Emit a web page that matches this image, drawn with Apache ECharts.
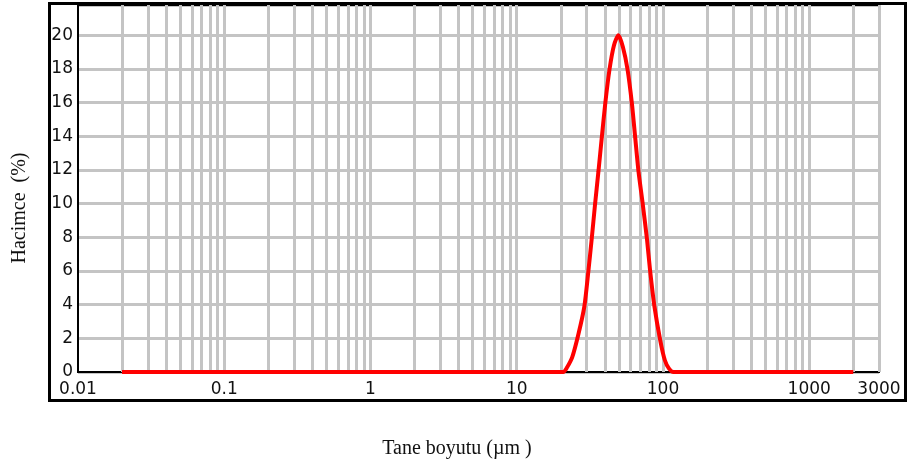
<!DOCTYPE html>
<html>
<head>
<meta charset="utf-8">
<script src="https://cdn.jsdelivr.net/npm/echarts@6/dist/echarts.min.js"></script>
<style>
html, body { margin: 0; padding: 0; background: #fff; }
#chart { width: 908px; height: 468px; }
</style>
</head>
<body>
<div id="chart"></div>
<script>
// tane boyutu (um) ve hacimce (%)
var sizes = [0.02, 18, 20.8, 22, 24, 26.5, 29.0, 30.9, 32.6, 34.3, 36.2, 38.2, 40.3, 43.1, 46.2, 49.6,
    53.2, 57.2, 61.3, 64.5, 68.0, 72.8, 77.6, 81.7, 87.4, 95.7, 103, 110, 118, 2000];
var volume = [0, 0, 0, 0.25, 0.9, 2.3, 3.9, 6.0, 7.95, 9.94, 11.92, 13.97, 15.95, 17.98, 19.4, 20.0,
    19.3, 17.98, 15.95, 13.97, 11.92, 9.94, 7.95, 6.0, 3.9, 1.9, 0.7, 0.2, 0, 0];

var xTickLabels = ['0.01', '0.1', '1', '10', '100', '1000', '3000'];
var yTickLabels = ['0', '2', '4', '6', '8', '10', '12', '14', '16', '18', '20'];
var gridDecades = [0.01, 0.1, 1, 10, 100, 1000];
var gridSteps = [1, 2, 3, 4, 5, 6, 7, 8, 9];

var xMin = 0.01, xMax = 3000;
var yMax = 21.8;

(function () {
    var mychart = echarts.init(document.getElementById('chart'));

    var data = sizes.map(function (s, i) { return [s, volume[i]]; });

    // dikey izgara cizgileri (log ara degerler)
    var vLines = [];
    gridDecades.forEach(function (d) {
        gridSteps.forEach(function (k) {
            var v = +(d * k).toPrecision(6);
            if (v > xMin && v <= xMax) vLines.push({ xAxis: v });
        });
    });

    var labelFont = 'DejaVu Sans';

    var option = {
        animation: false,
        backgroundColor: '#fff',
        grid: {
            left: 78,
            top: 5,
            right: 29,
            bottom: 96,
            show: true,
            borderColor: '#000',
            borderWidth: 2,
            z: 3
        },
        xAxis: {
            type: 'log',
            logBase: 10,
            min: xMin,
            max: xMax,
            axisLine: { show: false },
            axisTick: { show: false },
            splitLine: { show: false },
            axisLabel: {
                color: '#111',
                fontFamily: labelFont,
                fontSize: 17,
                margin: 9,
                showMinLabel: true,
                showMaxLabel: true,
                formatter: function (v) {
                    for (var i = 0; i < xTickLabels.length; i++) {
                        var t = parseFloat(xTickLabels[i]);
                        if (Math.abs(v - t) / t < 1e-3) return xTickLabels[i];
                    }
                    return '';
                }
            }
        },
        yAxis: {
            type: 'value',
            min: 0,
            max: yMax,
            interval: 2,
            axisLine: { show: false },
            axisTick: { show: false },
            splitLine: { show: true, lineStyle: { color: '#c4c4c4', width: 3 } },
            axisLabel: {
                color: '#111',
                fontFamily: labelFont,
                fontSize: 17,
                margin: 5,
                showMaxLabel: false,
                formatter: function (v) {
                    var s = String(v);
                    return yTickLabels.indexOf(s) >= 0 ? s : '';
                }
            }
        },
        series: [
            {
                name: 'grid',
                type: 'line',
                data: [],
                silent: true,
                z: 1,
                markLine: {
                    silent: true,
                    symbol: ['none', 'none'],
                    label: { show: false },
                    lineStyle: { color: '#c4c4c4', width: 3, type: 'solid' },
                    emphasis: { disabled: true },
                    data: vLines
                }
            },
            {
                name: 'Hacimce',
                type: 'line',
                data: data,
                showSymbol: false,
                smooth: 0.25,
                z: 5,
                lineStyle: { color: '#ff0000', width: 4 },
                itemStyle: { color: '#ff0000' }
            }
        ],
        graphic: [
            {
                type: 'rect',
                shape: { x: 49.5, y: 3.5, width: 856, height: 397 },
                style: { fill: 'none', stroke: '#000', lineWidth: 3 },
                silent: true,
                z: 10
            },
            {
                type: 'text',
                x: 20,
                y: 208,
                rotation: Math.PI / 2,
                style: {
                    text: 'Hacimce  (%)',
                    font: '20px "Liberation Serif"',
                    fill: '#111',
                    align: 'center',
                    verticalAlign: 'middle'
                }
            },
            {
                type: 'text',
                x: 457,
                y: 449,
                style: {
                    text: 'Tane boyutu (µm )',
                    font: '20px "Liberation Serif"',
                    fill: '#111',
                    align: 'center',
                    verticalAlign: 'middle'
                }
            }
        ]
    };
    mychart.setOption(option);
    window.addEventListener('resize', function () {
        mychart.resize();
    });
})();
</script>
</body>
</html>
